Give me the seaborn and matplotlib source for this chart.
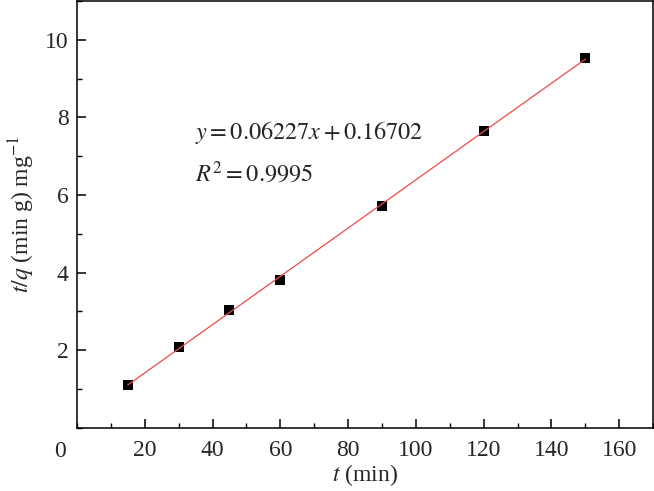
import numpy as np
import pandas as pd
import matplotlib
matplotlib.use("Agg")
import matplotlib.pyplot as plt
from matplotlib.ticker import MultipleLocator, FixedLocator
import seaborn as sns

# данные
t_min = [15, 30, 45, 60, 90, 120, 150]
t_over_q = [1.10, 2.08, 3.03, 3.80, 5.71, 7.66, 9.53]
x_ticks = [20, 40, 60, 80, 100, 120, 140, 160]
y_ticks = [2, 4, 6, 8, 10]
eq_text = r"$y = 0.06227x + 0.16702$"
r2_text = r"$R^2 = 0.9995$"

sns.set_theme(style="ticks")
plt.rcParams['font.family'] = 'serif'
plt.rcParams['font.serif'] = ['Liberation Serif', 'DejaVu Serif']
plt.rcParams['mathtext.fontset'] = 'stix'
plt.rcParams['axes.linewidth'] = 1.1

df = pd.DataFrame({'t': t_min, 'tq': t_over_q})

fig = plt.figure(figsize=(6.54, 4.91), dpi=100)
ax = fig.add_axes([0.1177, 0.129, 0.881, 0.869])

sns.regplot(data=df, x='t', y='tq', ax=ax, ci=None, truncate=True,
            marker='s',
            scatter_kws=dict(s=58, color='black', alpha=1, edgecolors='black', linewidths=0, zorder=3),
            line_kws=dict(color='#ec4b4b', lw=0.9, zorder=4))

ax.set_xlim(0, 170)
ax.set_ylim(0, 11)
ax.xaxis.set_major_locator(FixedLocator(x_ticks))
ax.yaxis.set_major_locator(FixedLocator(y_ticks))
ax.xaxis.set_minor_locator(MultipleLocator(10))
ax.yaxis.set_minor_locator(MultipleLocator(1))
ax.tick_params(which='major', direction='in', length=6.5, width=1.1, labelsize=17,
               top=False, right=False, color='black')
ax.tick_params(which='minor', direction='in', length=3.5, width=1.0,
               top=False, right=False, color='black')
ax.tick_params(axis='x', pad=9)
ax.tick_params(axis='y', pad=6)
for s in ax.spines.values():
    s.set_color('black')
    s.set_visible(True)

# ноль в углу
ax.text(-0.029, -0.0565, "0", transform=ax.transAxes, ha='center', va='center', fontsize=17)

ax.set_xlabel(r"$t$ (min)", fontsize=17, labelpad=1)
ax.set_ylabel(r"$t/q$ (min g) mg$^{-1}$", fontsize=17, labelpad=6)

ax.text(0.205, 0.676, eq_text, transform=ax.transAxes, fontsize=17.5, ha='left', va='baseline')
ax.text(0.205, 0.576, r2_text, transform=ax.transAxes, fontsize=17.5, ha='left', va='baseline')

fig.savefig("out.png", dpi=100)
